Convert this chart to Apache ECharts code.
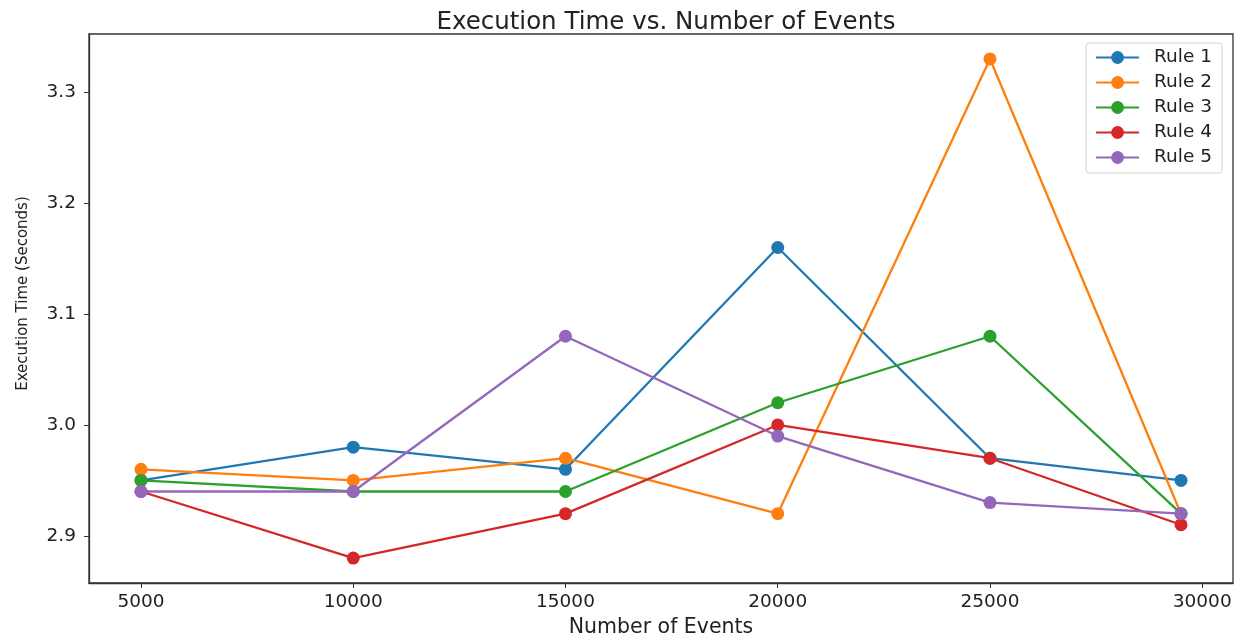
<!DOCTYPE html>
<html>
<head>
<meta charset="utf-8">
<script src="https://cdn.jsdelivr.net/npm/echarts@6/dist/echarts.min.js"></script>
<style>
html,body{margin:0;padding:0;background:#fff;overflow:hidden;}
#chart{width:1242px;height:643px;}
</style>
</head>
<body>
<div id="chart"></div>
<script>
const events = [5000, 10000, 15000, 20000, 25000, 29500];
const rule1 = [2.95, 2.98, 2.96, 3.16, 2.97, 2.95];
const rule2 = [2.96, 2.95, 2.97, 2.92, 3.33, 2.92];
const rule3 = [2.95, 2.94, 2.94, 3.02, 3.08, 2.92];
const rule4 = [2.94, 2.88, 2.92, 3.00, 2.97, 2.91];
const rule5 = [2.94, 2.94, 3.08, 2.99, 2.93, 2.92];
const xTicks = [5000, 10000, 15000, 20000, 25000, 30000];
const yTicks = [2.9, 3.0, 3.1, 3.2, 3.3];
const seriesNames = ['Rule 1', 'Rule 2', 'Rule 3', 'Rule 4', 'Rule 5'];
const seriesValues = [rule1, rule2, rule3, rule4, rule5];
const colors = ['#1f77b4', '#ff7f0e', '#2ca02c', '#d62728', '#9467bd'];

const font = 'DejaVu Sans';
const chart = echarts.init(document.getElementById('chart'), null, {renderer: 'canvas'});
const option = {
  animation: false,
  color: colors,
  title: {
    text: 'Execution Time vs. Number of Events',
    left: 661, top: 5, textAlign: 'center',
    textStyle: {fontFamily: font, fontSize: 24.5, fontWeight: 'normal', color: '#222'}
  },
  grid: {left: 89, top: 34, width: 1144, height: 554, show: true, borderColor: '#333', borderWidth: 1.3, containLabel: false},
  legend: {
    right: 20, top: 43, orient: 'vertical',
    itemWidth: 43, itemHeight: 16, itemGap: 6,
    padding: [5, 10, 6, 9],
    borderColor: '#d0d0d0', borderWidth: 1, borderRadius: 3,
    backgroundColor: 'rgba(255,255,255,0.8)',
    textStyle: {fontFamily: font, fontSize: 18.5, color: '#222', padding: [0,0,0,10]},
    data: seriesNames
  },
  xAxis: {
    type: 'value', min: 3775, max: 30725,
    name: 'Number of Events', nameLocation: 'middle', nameGap: 34,
    nameTextStyle: {fontFamily: font, fontSize: 20.5, color: '#222'},
    axisLine: {show: true, lineStyle: {color: '#333', width: 1.3}},
    axisTick: {show: true, length: 5, customValues: xTicks, lineStyle: {color: '#333'}},
    axisLabel: {customValues: xTicks, fontFamily: font, fontSize: 18.5, color: '#222', margin: 10,
      formatter: v => String(v)},
    splitLine: {show: false}
  },
  yAxis: {
    type: 'value', min: 2.8575, max: 3.3525,
    name: 'Execution Time (Seconds)', nameLocation: 'middle', nameGap: 58,
    nameTextStyle: {fontFamily: font, fontSize: 15, color: '#222', padding: [0, 0, 0, 30]},
    axisLine: {show: true, lineStyle: {color: '#333', width: 1.3}},
    axisTick: {show: true, length: 5, customValues: yTicks, lineStyle: {color: '#333'}},
    axisLabel: {customValues: yTicks, fontFamily: font, fontSize: 18.5, color: '#222', margin: 13,
      formatter: v => v.toFixed(1)},
    splitLine: {show: false}
  },
  series: seriesNames.map((n, i) => ({
    name: n, type: 'line',
    data: events.map((x, j) => [x, seriesValues[i][j]]),
    symbol: 'circle', symbolSize: 13,
    lineStyle: {width: 2.3, color: colors[i]},
    itemStyle: {color: colors[i]}
  }))
};
chart.setOption(option);
</script>
</body>
</html>
